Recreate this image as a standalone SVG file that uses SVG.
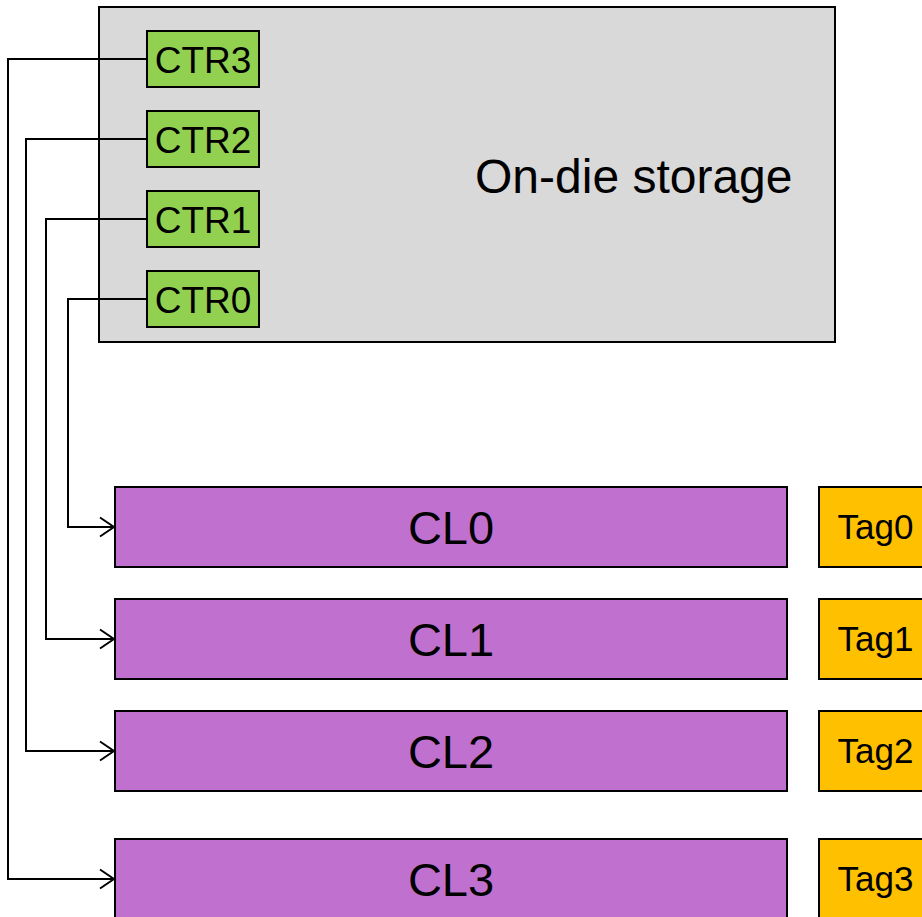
<svg xmlns="http://www.w3.org/2000/svg" width="922" height="917" viewBox="0 0 922 917">
<style>
text{font-family:"Liberation Sans",Arial,sans-serif;fill:#000}
.box{stroke:#000;stroke-width:2}
.ctr rect{fill:#92d050}
.ctr text{font-size:37px;text-anchor:middle}
.cl rect{fill:#c071d0}
.cl text{font-size:47px;text-anchor:middle}
.tag rect{fill:#ffc000}
.tag text{font-size:35px;text-anchor:middle}
.wire{fill:none;stroke:#000;stroke-width:2}
</style>
<defs>
<marker id="arr" markerWidth="16" markerHeight="22" refX="15" refY="11" orient="auto" markerUnits="userSpaceOnUse">
<path d="M1,1.5 L15,11 L1,20.5" fill="none" stroke="#000" stroke-width="2"/>
</marker>
</defs>
<rect fill="#fff" width="922" height="917"/>
<g id="storage">
<rect class="box" x="99" y="7" width="736" height="335" fill="#d9d9d9"/>
<text x="475" y="193" font-size="48">On-die storage</text>
</g>
<g id="ctr3" class="ctr"><rect class="box" x="147" y="31" width="112" height="56"/><text x="203" y="73">CTR3</text></g>
<g id="ctr2" class="ctr"><rect class="box" x="147" y="111" width="112" height="56"/><text x="203" y="153">CTR2</text></g>
<g id="ctr1" class="ctr"><rect class="box" x="147" y="191" width="112" height="56"/><text x="203" y="233">CTR1</text></g>
<g id="ctr0" class="ctr"><rect class="box" x="147" y="271" width="112" height="56"/><text x="203" y="313">CTR0</text></g>
<g id="cl0" class="cl"><rect class="box" x="115" y="487" width="672" height="80"/><text x="451" y="544">CL0</text></g>
<g id="cl1" class="cl"><rect class="box" x="115" y="599" width="672" height="80"/><text x="451" y="656">CL1</text></g>
<g id="cl2" class="cl"><rect class="box" x="115" y="711" width="672" height="80"/><text x="451" y="768">CL2</text></g>
<g id="cl3" class="cl"><rect class="box" x="115" y="839" width="672" height="80"/><text x="451" y="896">CL3</text></g>
<g id="tag0" class="tag"><rect class="box" x="819" y="487" width="112" height="80"/><text x="875.5" y="539">Tag0</text></g>
<g id="tag1" class="tag"><rect class="box" x="819" y="599" width="112" height="80"/><text x="875.5" y="651">Tag1</text></g>
<g id="tag2" class="tag"><rect class="box" x="819" y="711" width="112" height="80"/><text x="875.5" y="763">Tag2</text></g>
<g id="tag3" class="tag"><rect class="box" x="819" y="839" width="112" height="80"/><text x="875.5" y="891">Tag3</text></g>
<g id="connectors">
<path class="wire" d="M147,299 H68 V527 H114" marker-end="url(#arr)"/>
<path class="wire" d="M147,219 H46 V639 H114" marker-end="url(#arr)"/>
<path class="wire" d="M147,139 H26 V751 H114" marker-end="url(#arr)"/>
<path class="wire" d="M147,59 H8 V879 H114" marker-end="url(#arr)"/>
</g>
</svg>
